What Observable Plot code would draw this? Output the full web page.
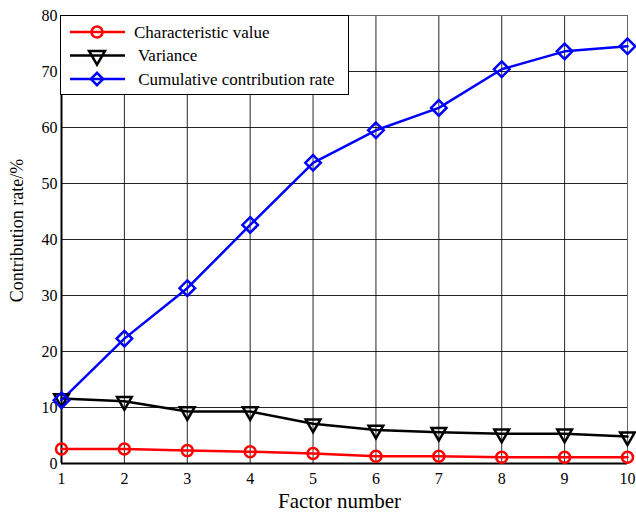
<!DOCTYPE html>
<html>
<head>
<meta charset="utf-8">
<script src="https://cdn.jsdelivr.net/npm/d3@7"></script>
<script src="https://cdn.jsdelivr.net/npm/@observablehq/plot@0.6"></script>
<style>
  html, body { margin: 0; padding: 0; background: #fff; }
  #wrap { position: relative; width: 636px; height: 513px; overflow: hidden; font-family: 'Liberation Serif', 'Times New Roman', serif; }
  #wrap svg text { font-family: 'Liberation Serif', 'Times New Roman', serif; }
  #legend { position: absolute; left: 60px; top: 15px; width: 287px; height: 78px; background: #fff; border: 1.5px solid #000; }
  #legend svg { position: absolute; left: 0; top: 0; }
</style>
</head>
<body>
<div id="wrap"></div>
<script>
const factors = [1, 2, 3, 4, 5, 6, 7, 8, 9, 10];
const characteristicValue = [2.6, 2.6, 2.3, 2.1, 1.8, 1.3, 1.3, 1.1, 1.1, 1.1];
const variance = [11.6, 11.1, 9.3, 9.3, 7.1, 6.0, 5.6, 5.3, 5.3, 4.8];
const cumulative = [11.3, 22.3, 31.3, 42.6, 53.7, 59.5, 63.5, 70.4, 73.6, 74.5];
const seriesNames = ["Characteristic value", " Variance", " Cumulative contribution rate"];
const yTicks = [0, 10, 20, 30, 40, 50, 60, 70, 80];
const xLabel = "Factor number";
const yLabel = "Contribution rate/%";

const toRows = (vals) => factors.map((f, i) => ({factor: f, value: vals[i]}));
const charRows = toRows(characteristicValue);
const varRows = toRows(variance);
const cumRows = toRows(cumulative);

const serif = "'Liberation Serif', 'Times New Roman', serif";

const chart = Plot.plot({
  width: 636,
  height: 513,
  marginLeft: 61,
  marginRight: 9,
  marginTop: 15,
  marginBottom: 50,
  style: {fontFamily: serif, fontSize: "16px", background: "#fff", color: "#000"},
  x: {domain: [1, 10]},
  y: {domain: [0, 80]},
  marks: [
    Plot.gridX(factors, {stroke: "#000", strokeOpacity: 0.85, strokeWidth: 1}),
    Plot.gridY(yTicks, {stroke: "#000", strokeOpacity: 0.85, strokeWidth: 1}),
    Plot.frame({stroke: "#666", strokeWidth: 1}),
    Plot.ruleX([1], {stroke: "#000", strokeWidth: 2}),
    Plot.ruleY([0], {stroke: "#000", strokeWidth: 2}),
    Plot.axisX(factors, {tickSize: 0, tickPadding: 9, fontSize: 16, label: null}),
    Plot.axisY(yTicks, {tickSize: 0, tickPadding: 4, fontSize: 16, label: null}),
    Plot.text([xLabel], {frameAnchor: "bottom", lineAnchor: "middle", dx: -5, dy: 38, fontSize: 21}),
    Plot.text([yLabel], {frameAnchor: "left", textAnchor: "middle", lineAnchor: "middle", dx: -44, dy: -9, rotate: -90, fontSize: 18}),
    Plot.line(charRows, {x: "factor", y: "value", stroke: "#ff0000", strokeWidth: 2.5}),
    Plot.line(varRows, {x: "factor", y: "value", stroke: "#000", strokeWidth: 2.5}),
    Plot.line(cumRows, {x: "factor", y: "value", stroke: "#0000ff", strokeWidth: 2.5}),
    Plot.dot(charRows, {x: "factor", y: "value", symbol: "circle", r: 5.5, stroke: "#ff0000", strokeWidth: 2.5, fill: "none"}),
    Plot.dot(varRows, {x: "factor", y: "value", symbol: "triangle2", r: 7, rotate: 180, stroke: "#000", strokeWidth: 2.5, fill: "none"}),
    Plot.dot(cumRows, {x: "factor", y: "value", symbol: "diamond2", r: 7, stroke: "#0000ff", strokeWidth: 2.5, fill: "none"})
  ]
});

const wrap = document.getElementById("wrap");
wrap.appendChild(chart);

// Legend overlay
const legend = document.createElement("div");
legend.id = "legend";
wrap.appendChild(legend);
const colors = ["#ff0000", "#000", "#0000ff"];
const symbols = [d3.symbolCircle, d3.symbolTriangle, d3.symbolSquare];
const lsvg = d3.select(legend).append("svg").attr("width", 287).attr("height", 78);
seriesNames.forEach((name, i) => {
  const cy = 16 + i * 23.5;
  const g = lsvg.append("g");
  g.append("line").attr("x1", 9).attr("x2", 64).attr("y1", cy).attr("y2", cy)
    .attr("stroke", colors[i]).attr("stroke-width", 2.5);
  let t = `translate(36,${cy})`;
  if (i === 1) t += " rotate(180)";
  if (i === 2) t += " rotate(45)";
  const size = i === 0 ? 95 : (i === 1 ? 110 : 75);
  g.append("path").attr("d", d3.symbol(symbols[i], size)()).attr("transform", t)
    .attr("fill", "none").attr("stroke", colors[i]).attr("stroke-width", 2.5);
  g.append("text").attr("x", 73).attr("y", cy).attr("dy", "0.35em")
    .style("font-family", serif).attr("font-size", 17)
    .style("white-space", "pre").text(name);
});
</script>
</body>
</html>
